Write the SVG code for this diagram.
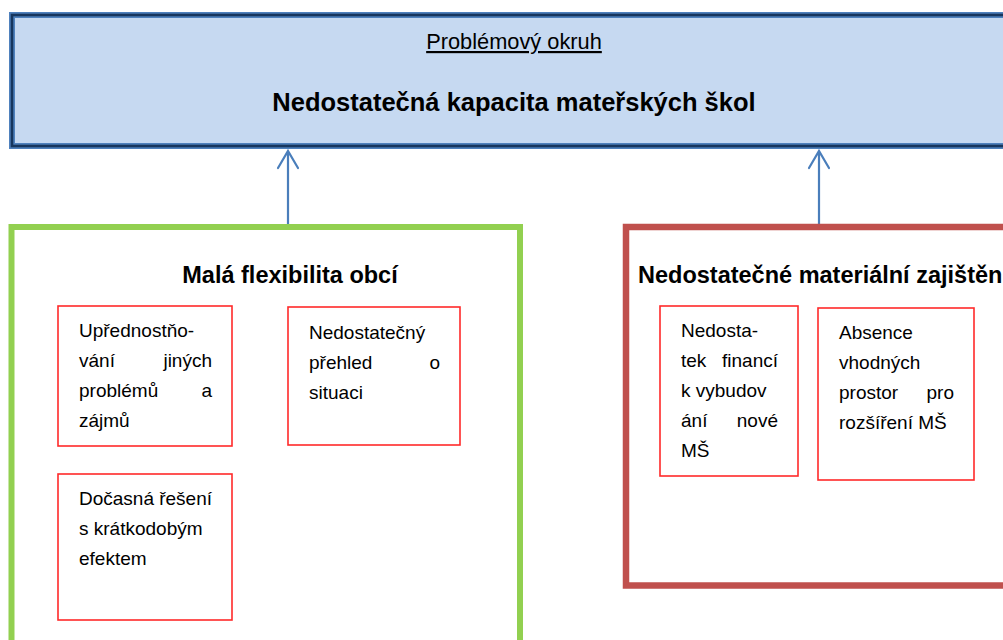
<svg xmlns="http://www.w3.org/2000/svg" width="1003" height="640" viewBox="0 0 1003 640">
<style>
text{font-family:"Liberation Sans",Arial,sans-serif;fill:#000}
.t{font-size:19px}
.e{text-anchor:end}
.h{font-size:23.5px;font-weight:bold}
.item{fill:#fff;stroke:#ff2a2a;stroke-width:1.6}
.conn{stroke:#4a7ebb;stroke-width:2.2;fill:none;stroke-linecap:round}
</style>
<rect width="1003" height="640" fill="#fff"/>
<g id="problem">
<rect x="12" y="15" width="1010" height="131" fill="#c6d9f1" stroke="#4f81bd" stroke-width="6"/>
<rect x="12" y="15" width="1010" height="131" fill="none" stroke="#17365d" stroke-width="2.6"/>
<text x="514" y="49" font-size="21.8" text-anchor="middle" text-decoration="underline">Problémový okruh</text>
<text x="514" y="111" font-size="25.5" font-weight="bold" text-anchor="middle">Nedostatečná kapacita mateřských škol</text>
</g>
<g id="connectors">
<path class="conn" d="M288 227V151M278 168L288 151L298 168"/>
<path class="conn" d="M819 227V151M809 168L819 151L829 168"/>
</g>
<g id="flexibilita">
<rect x="11.5" y="227" width="508.5" height="430" fill="#fff" stroke="#92d050" stroke-width="6"/>
<text class="h" x="290" y="283" text-anchor="middle">Malá flexibilita obcí</text>
</g>
<g id="zajisteni">
<rect x="626" y="227" width="400" height="358.5" fill="#fff" stroke="#c0504d" stroke-width="6.5"/>
<text class="h" x="638" y="283">Nedostatečné materiální zajištění</text>
</g>
<g id="upred">
<rect class="item" x="58" y="306" width="174" height="140"/>
<text class="t" x="79" y="337">Upřednostňo-</text>
<text class="t" x="79" y="367">vání</text><text class="t e" x="212" y="367">jiných</text>
<text class="t" x="79" y="397">problémů</text><text class="t e" x="212" y="397">a</text>
<text class="t" x="79" y="427">zájmů</text>
</g>
<g id="prehled">
<rect class="item" x="288" y="307" width="172" height="138"/>
<text class="t" x="309" y="339">Nedostatečný</text>
<text class="t" x="309" y="369">přehled</text><text class="t e" x="440" y="369">o</text>
<text class="t" x="309" y="399">situaci</text>
</g>
<g id="docasna">
<rect class="item" x="58" y="474" width="174" height="146"/>
<text class="t" x="79" y="505">Dočasná</text><text class="t e" x="212" y="505">řešení</text>
<text class="t" x="79" y="535">s krátkodobým</text>
<text class="t" x="79" y="565">efektem</text>
</g>
<g id="financi">
<rect class="item" x="660" y="306" width="138" height="170"/>
<text class="t" x="681" y="337">Nedosta-</text>
<text class="t" x="681" y="367">tek</text><text class="t e" x="778" y="367">financí</text>
<text class="t" x="681" y="397">k vybudov</text>
<text class="t" x="681" y="427">ání</text><text class="t e" x="778" y="427">nové</text>
<text class="t" x="681" y="457">MŠ</text>
</g>
<g id="prostor">
<rect class="item" x="818" y="308" width="156" height="172"/>
<text class="t" x="839" y="339">Absence</text>
<text class="t" x="839" y="369">vhodných</text>
<text class="t" x="839" y="399">prostor</text><text class="t e" x="954" y="399">pro</text>
<text class="t" x="839" y="429">rozšíření MŠ</text>
</g>
</svg>
